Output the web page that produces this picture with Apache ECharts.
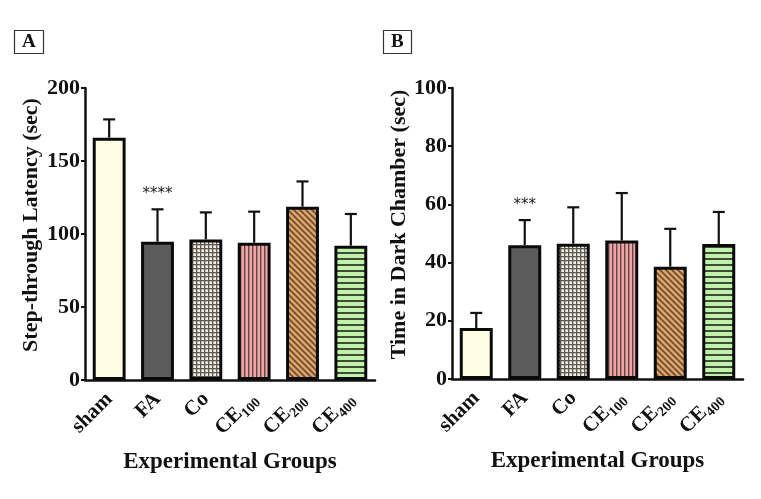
<!DOCTYPE html>
<html>
<head>
<meta charset="utf-8">
<script src="https://cdn.jsdelivr.net/npm/echarts@6/dist/echarts.min.js"></script>
<style>
  html, body { margin: 0; padding: 0; background: #fff; }
  #main { width: 761px; height: 499px; }
</style>
</head>
<body>
<div id="main"></div>
<script>
// groups on the x axis
var groups = ['sham', 'FA', 'Co', 'CE100', 'CE200', 'CE400'];

// panel A: step-through latency (sec)
var latencyMean = [166, 94.7, 96.3, 94, 118.7, 92];
var latencyErr = [12.5, 22.2, 18.5, 21.3, 17.3, 21.7];
var latencyStars = ['', '****', '', '', '', ''];
var latencyTicks = [0, 50, 100, 150, 200];

// panel B: time in dark chamber (sec)
var darkMean = [17.5, 46, 46.5, 47.6, 38.6, 46.4];
var darkErr = [5.2, 8.6, 12.5, 16.3, 13, 11];
var darkStars = ['', '***', '', '', '', ''];
var darkTicks = [0, 20, 40, 60, 80, 100];

var serif = 'Liberation Serif';

// small canvas patterns for the hatched bars
function makePattern(bg, fg, kind) {
  var c = document.createElement('canvas');
  var s = kind == 'horiz' ? 6 : (kind == 'diag' ? 6 : 4);
  c.width = s; c.height = s;
  var ctx = c.getContext('2d');
  ctx.fillStyle = bg;
  ctx.fillRect(0, 0, s, s);
  ctx.fillStyle = fg;
  ctx.strokeStyle = fg;
  if (kind == 'grid') {
    ctx.fillRect(0, 0, s, 1.3);
    ctx.fillRect(0, 0, 1.3, s);
  } else if (kind == 'vert') {
    ctx.fillRect(0, 0, 1.4, s);
  } else if (kind == 'horiz') {
    ctx.fillRect(0, 0, s, 2);
  } else if (kind == 'diag') {
    ctx.lineWidth = 1.6;
    ctx.beginPath();
    ctx.moveTo(-1, -1); ctx.lineTo(s + 1, s + 1);
    ctx.moveTo(-1, s - 1); ctx.lineTo(1, s + 1);
    ctx.moveTo(s - 1, -1); ctx.lineTo(s + 1, 1);
    ctx.stroke();
  }
  return { image: c, repeat: 'repeat' };
}

var fills = [
  '#fffde3',
  '#5c5c5c',
  makePattern('#f5f0e4', '#5e5852', 'grid'),
  makePattern('#f3a5a5', '#5e4848', 'vert'),
  makePattern('#dba56c', '#6e4c2c', 'diag'),
  makePattern('#c0f2a8', '#3f4a3c', 'horiz')
];

function barData(means) {
  var out = [];
  for (var i = 0; i < means.length; i++) {
    out.push({ value: means[i], itemStyle: { color: fills[i] } });
  }
  return out;
}

function errData(means, errs, stars) {
  var out = [];
  for (var i = 0; i < means.length; i++) {
    out.push([i, means[i], means[i] + errs[i], stars[i]]);
  }
  return out;
}

function renderErr(params, api) {
  var base = api.coord([api.value(0), api.value(1)]);
  var top = api.coord([api.value(0), api.value(2)]);
  var star = params.dataIndex >= 0 ? errSource[params.seriesId][params.dataIndex][3] : '';
  var kids = [
    { type: 'line', shape: { x1: base[0], y1: base[1], x2: top[0], y2: top[1] },
      style: { stroke: '#111', lineWidth: 2.2 } },
    { type: 'line', shape: { x1: top[0] - 6, y1: top[1], x2: top[0] + 6, y2: top[1] },
      style: { stroke: '#111', lineWidth: 2.2 } }
  ];
  if (star) {
    kids.push({ type: 'text', x: top[0], y: top[1] - 15,
      style: { text: star, fill: '#222', font: '15px DejaVu Sans', align: 'center', verticalAlign: 'middle' } });
  }
  return { type: 'group', children: kids };
}

var errSource = {
  errA: errData(latencyMean, latencyErr, latencyStars),
  errB: errData(darkMean, darkErr, darkStars)
};

function labelFmt(v) {
  if (v.indexOf('CE') == 0) return '{m|CE}{s|' + v.slice(2) + '}';
  return '{m|' + v + '}';
}

function xAxisFor(gi) {
  return {
    type: 'category', gridIndex: gi, data: groups,
    name: 'Experimental Groups', nameLocation: 'middle', nameGap: 71,
    nameTextStyle: { fontFamily: serif, fontWeight: 'bold', fontSize: 23, color: '#111' },
    axisLine: { lineStyle: { color: '#111', width: 2.5 } },
    axisTick: { alignWithLabel: true, length: 5, lineStyle: { color: '#111', width: 2 } },
    axisLabel: {
      rotate: 45, margin: 16, interval: 0, formatter: labelFmt,
      rich: {
        m: { fontFamily: serif, fontWeight: 'bold', fontSize: 21, color: '#111', lineHeight: 21 },
        s: { fontFamily: serif, fontWeight: 'bold', fontSize: 14, color: '#111', lineHeight: 27, verticalAlign: 'bottom' }
      }
    }
  };
}

function yAxisFor(gi, name, max, step, gap) {
  return {
    type: 'value', gridIndex: gi, min: 0, max: max, interval: step,
    name: name, nameLocation: 'middle', nameGap: gap,
    nameTextStyle: { fontFamily: serif, fontWeight: 'bold', fontSize: 22, color: '#111', padding: [0, 0, 0, 18] },
    splitLine: { show: false },
    axisLine: { show: true, lineStyle: { color: '#111', width: 2.5 } },
    axisTick: { show: true, length: 4, lineStyle: { color: '#111', width: 2 } },
    axisLabel: { margin: 5, fontFamily: serif, fontWeight: 'bold', fontSize: 22, color: '#111' }
  };
}

var chart = echarts.init(document.getElementById('main'));
var option = {
  backgroundColor: '#fff',
  animation: false,
  title: [
    { text: 'A', left: 14, top: 30, padding: [3, 8, 2, 8], borderColor: '#333', borderWidth: 1.2,
      textStyle: { fontFamily: serif, fontWeight: 'bold', fontSize: 19, color: '#111' } },
    { text: 'B', left: 383, top: 30, padding: [3, 8, 2, 8], borderColor: '#333', borderWidth: 1.2,
      textStyle: { fontFamily: serif, fontWeight: 'bold', fontSize: 19, color: '#111' } }
  ],
  grid: [
    { left: 85, right: 386, top: 88, bottom: 119 },
    { left: 452, right: 18, top: 88, bottom: 120 }
  ],
  xAxis: [xAxisFor(0), xAxisFor(1)],
  yAxis: [
    yAxisFor(0, 'Step-through Latency (sec)', latencyTicks[latencyTicks.length - 1], latencyTicks[1] - latencyTicks[0], 43),
    yAxisFor(1, 'Time in Dark Chamber (sec)', darkTicks[darkTicks.length - 1], darkTicks[1] - darkTicks[0], 39)
  ],
  series: [
    { type: 'bar', xAxisIndex: 0, yAxisIndex: 0, barWidth: '68%', data: barData(latencyMean),
      itemStyle: { borderColor: '#0a0a0a', borderWidth: 3 }, z: 2 },
    { type: 'custom', id: 'errA', xAxisIndex: 0, yAxisIndex: 0, data: errSource.errA,
      renderItem: renderErr, z: 1 },
    { type: 'bar', xAxisIndex: 1, yAxisIndex: 1, barWidth: '68%', data: barData(darkMean),
      itemStyle: { borderColor: '#0a0a0a', borderWidth: 3 }, z: 2 },
    { type: 'custom', id: 'errB', xAxisIndex: 1, yAxisIndex: 1, data: errSource.errB,
      renderItem: renderErr, z: 1 }
  ]
};
chart.setOption(option);
</script>
</body>
</html>
